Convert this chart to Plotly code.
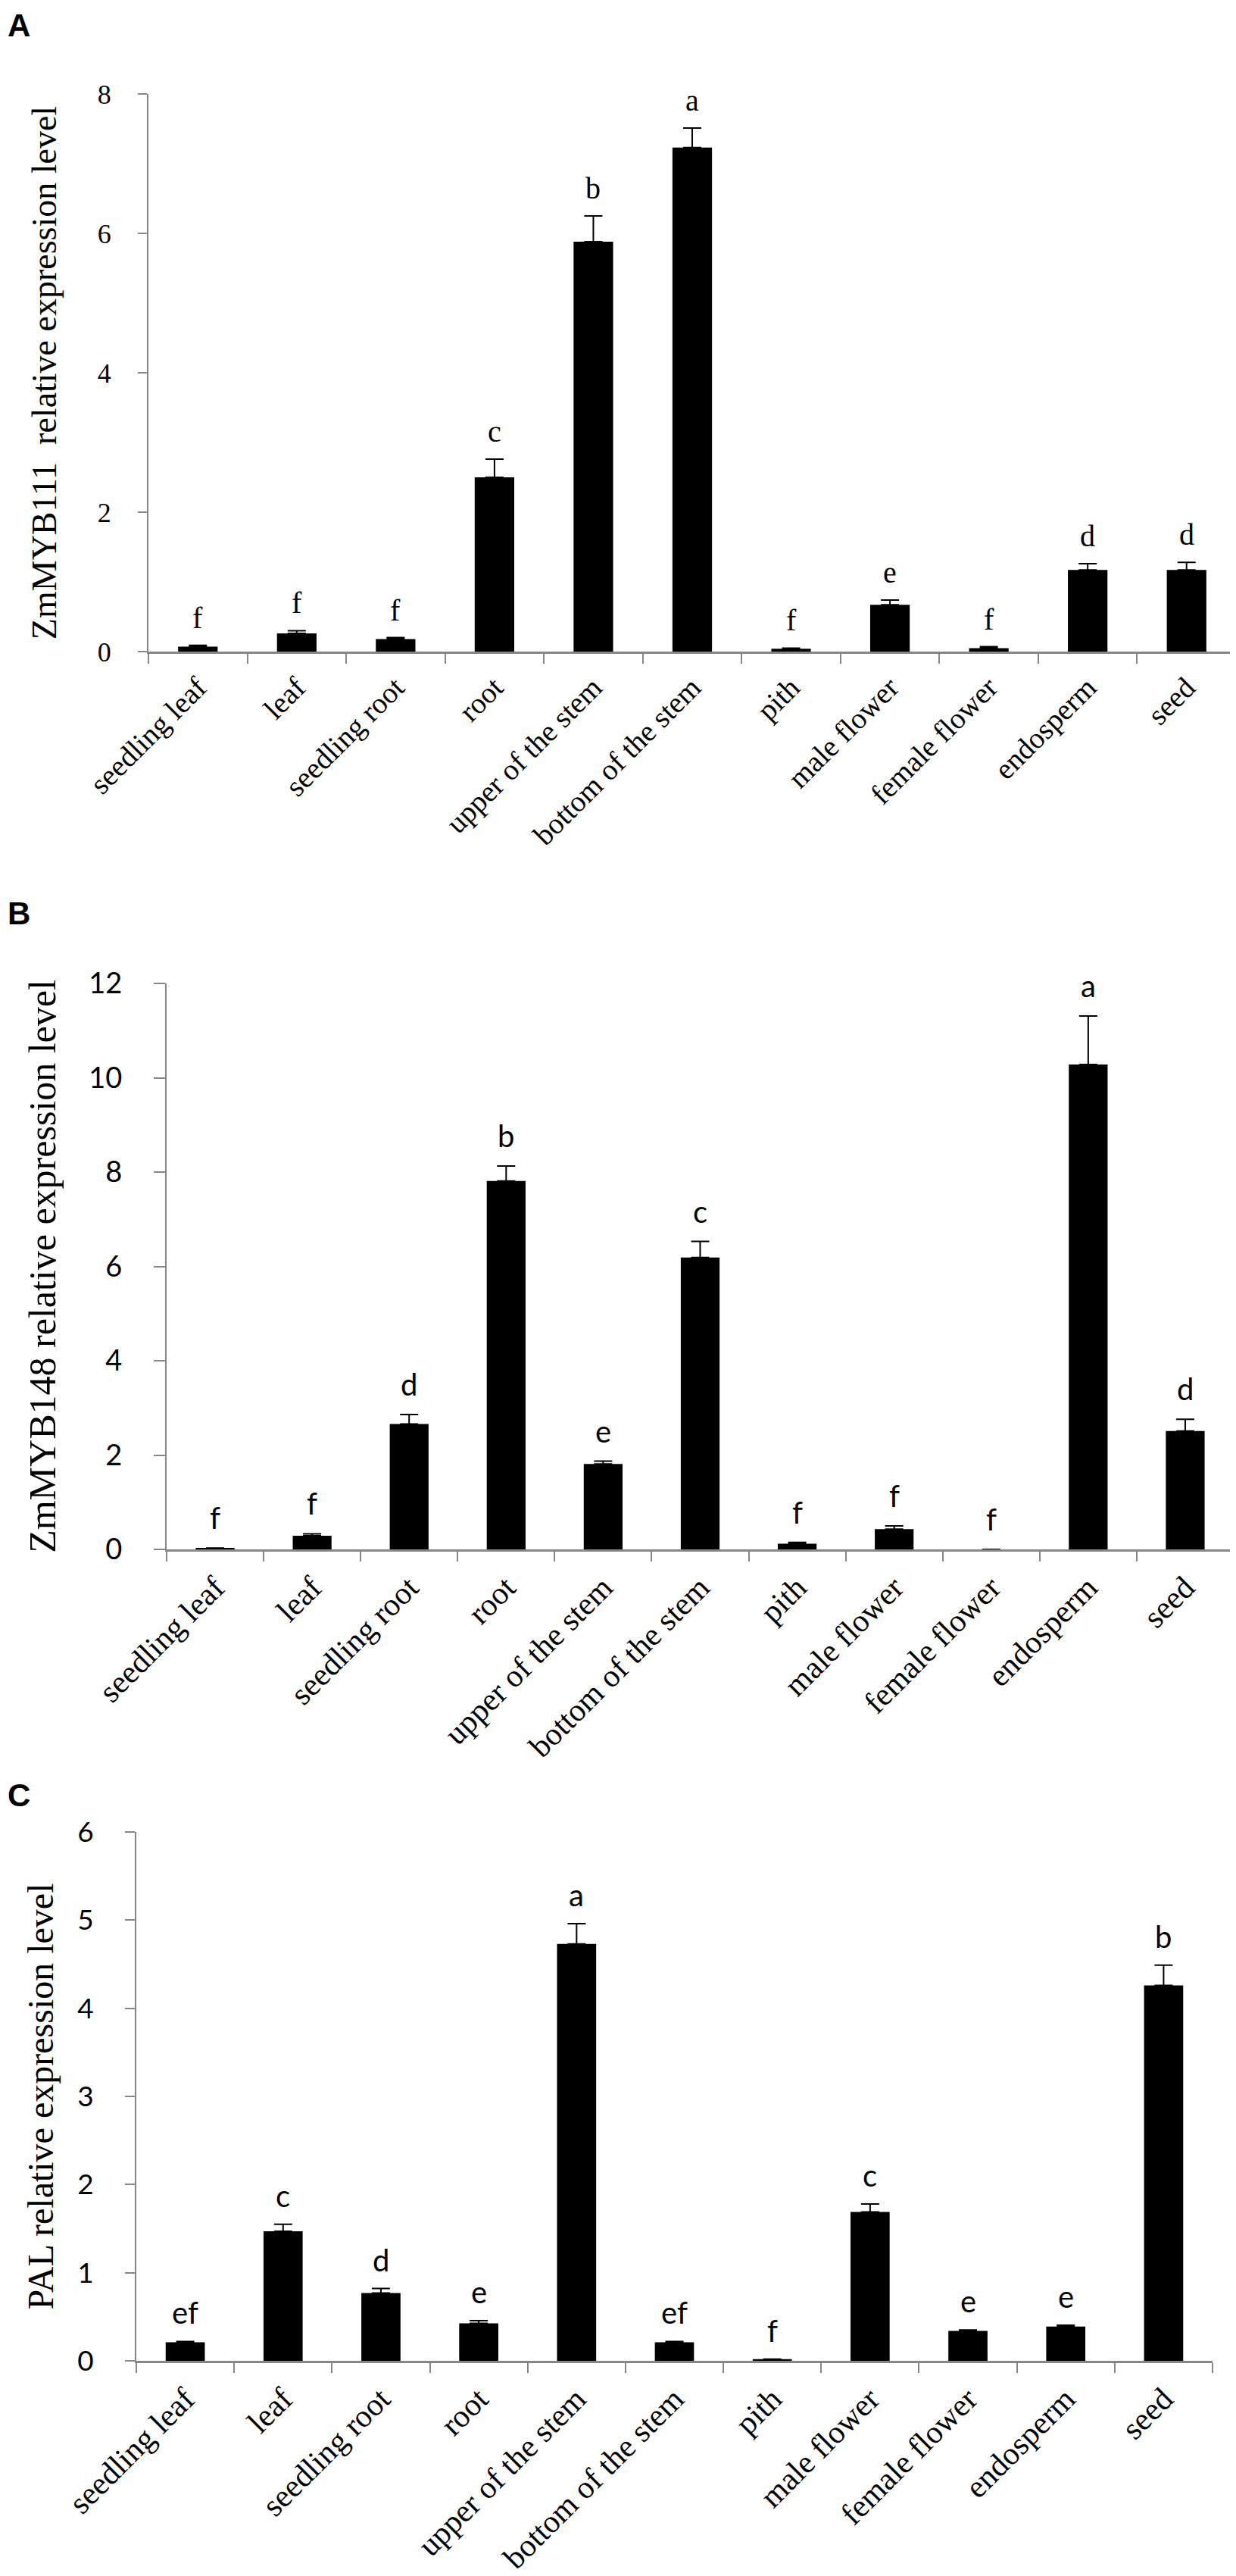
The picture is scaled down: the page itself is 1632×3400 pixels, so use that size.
import plotly.graph_objects as go

# tissues shared by all three panels
tissues = ["seedling leaf", "leaf", "seedling root", "root", "upper of the stem",
           "bottom of the stem", "pith", "male flower", "female flower", "endosperm", "seed"]

# panel A - ZmMYB111
myb111_mean = [0.07, 0.26, 0.18, 2.50, 5.88, 7.23, 0.04, 0.67, 0.05, 1.17, 1.17]
myb111_err = [0.02, 0.04, 0.02, 0.26, 0.37, 0.28, 0.01, 0.07, 0.02, 0.09, 0.11]
myb111_sig = ["f", "f", "f", "c", "b", "a", "f", "e", "f", "d", "d"]

# panel B - ZmMYB148
myb148_mean = [0.02, 0.29, 2.66, 7.81, 1.81, 6.19, 0.12, 0.43, 0.0, 10.28, 2.51]
myb148_err = [0.01, 0.04, 0.20, 0.32, 0.06, 0.34, 0.03, 0.07, 0.0, 1.03, 0.25]
myb148_sig = ["f", "f", "d", "b", "e", "c", "f", "f", "f", "a", "d"]

# panel C - PAL
pal_mean = [0.21, 1.47, 0.77, 0.425, 4.73, 0.21, 0.02, 1.69, 0.34, 0.39, 4.26]
pal_err = [0.01, 0.08, 0.05, 0.03, 0.23, 0.01, 0.0, 0.09, 0.01, 0.015, 0.23]
pal_sig = ["ef", "c", "d", "e", "a", "ef", "f", "c", "e", "e", "b"]

W, H = 1632, 3400
SERIF = "Liberation Serif"
SANS = "Lato"
AXIS_GREY = "#868686"

# plot box in px: left, right, top (max tick), bottom (zero line)
panels = [
    dict(mean=myb111_mean, err=myb111_err, sig=myb111_sig, ymax=8, dtick=2,
         title="ZmMYB111  relative expression level", box=(188, 1624, 116, 852),
         tickfont=dict(family=SERIF, size=36), ticklen=12, tickstand=28,
         sigfont=dict(family=SERIF, size=40), sigshift=12,
         titlesize=46, titlestand=40, labelsize=39, letter="A", letter_top=0),
    dict(mean=myb148_mean, err=myb148_err, sig=myb148_sig, ymax=12, dtick=2,
         title="ZmMYB148 relative expression level", box=(212, 1621, 1290, 2037),
         tickfont=dict(family=SANS, size=38), ticklen=15, tickstand=34,
         sigfont=dict(family=SANS, size=40), sigshift=14,
         titlesize=50, titlestand=28, labelsize=42, letter="B", letter_top=1172),
    dict(mean=pal_mean, err=pal_err, sig=pal_sig, ymax=6, dtick=1,
         title="PAL relative expression level", box=(172, 1593, 2410, 3108),
         tickfont=dict(family=SANS, size=37), ticklen=13, tickstand=34,
         sigfont=dict(family=SANS, size=40), sigshift=12,
         titlesize=48, titlestand=16, labelsize=42, letter="C", letter_top=2336),
]

fig = go.Figure()
annotations = []
layout = {}

for i, p in enumerate(panels, start=1):
    sfx = "" if i == 1 else str(i)
    xa, ya = "x" + sfx, "y" + sfx
    left, right, top, bottom = p["box"]

    fig.add_trace(go.Bar(
        x=tissues, y=p["mean"], xaxis=xa, yaxis=ya,
        marker=dict(color="black", line=dict(width=0)),
        width=0.4,
        error_y=dict(type="data", array=p["err"], arrayminus=[0] * len(p["err"]),
                     symmetric=False, color="black", thickness=2, width=12),
        showlegend=False,
    ))

    layout["xaxis" + sfx] = dict(
        domain=[left / W, right / W], anchor=ya,
        type="category", range=[-0.5, len(tissues) - 0.5],
        showline=True, linecolor=AXIS_GREY, linewidth=3,
        ticks="outside", tickson="boundaries", ticklen=13, tickwidth=2,
        tickcolor=AXIS_GREY, tickangle=-45, ticklabelstandoff=6,
        tickfont=dict(family=SERIF, size=p["labelsize"], color="black"),
        showgrid=False, zeroline=False, automargin=False,
    )
    layout["yaxis" + sfx] = dict(
        domain=[1 - bottom / H, 1 - top / H], anchor=xa,
        range=[0, p["ymax"]], dtick=p["dtick"], tick0=0,
        showline=True, linecolor=AXIS_GREY, linewidth=2,
        ticks="outside", ticklen=p["ticklen"], tickwidth=2, tickcolor=AXIS_GREY,
        ticklabelstandoff=p["tickstand"],
        tickfont=dict(color="black", **p["tickfont"]),
        title=dict(text=p["title"], font=dict(family=SERIF, size=p["titlesize"], color="black"),
                   standoff=p["titlestand"]),
        showgrid=False, zeroline=False, automargin=False,
    )

    # significance letters above the error bars
    for t, m, e, s in zip(tissues, p["mean"], p["err"], p["sig"]):
        annotations.append(dict(
            x=t, y=m + e, xref=xa, yref=ya, text=s, showarrow=False,
            yanchor="bottom", yshift=p["sigshift"],
            font=dict(color="black", **p["sigfont"]),
        ))

    # panel letter
    annotations.append(dict(
        x=0.0, y=1 - p["letter_top"] / H, xref="paper", yref="paper",
        text="<b>" + p["letter"] + "</b>", showarrow=False,
        xanchor="left", yanchor="top",
        font=dict(family="Liberation Sans", size=42, color="black"),
    ))

fig.update_layout(
    width=W, height=H,
    margin=dict(l=0, r=0, t=0, b=0),
    paper_bgcolor="white", plot_bgcolor="white",
    annotations=annotations,
    **layout,
)

fig.write_html("out.html")
